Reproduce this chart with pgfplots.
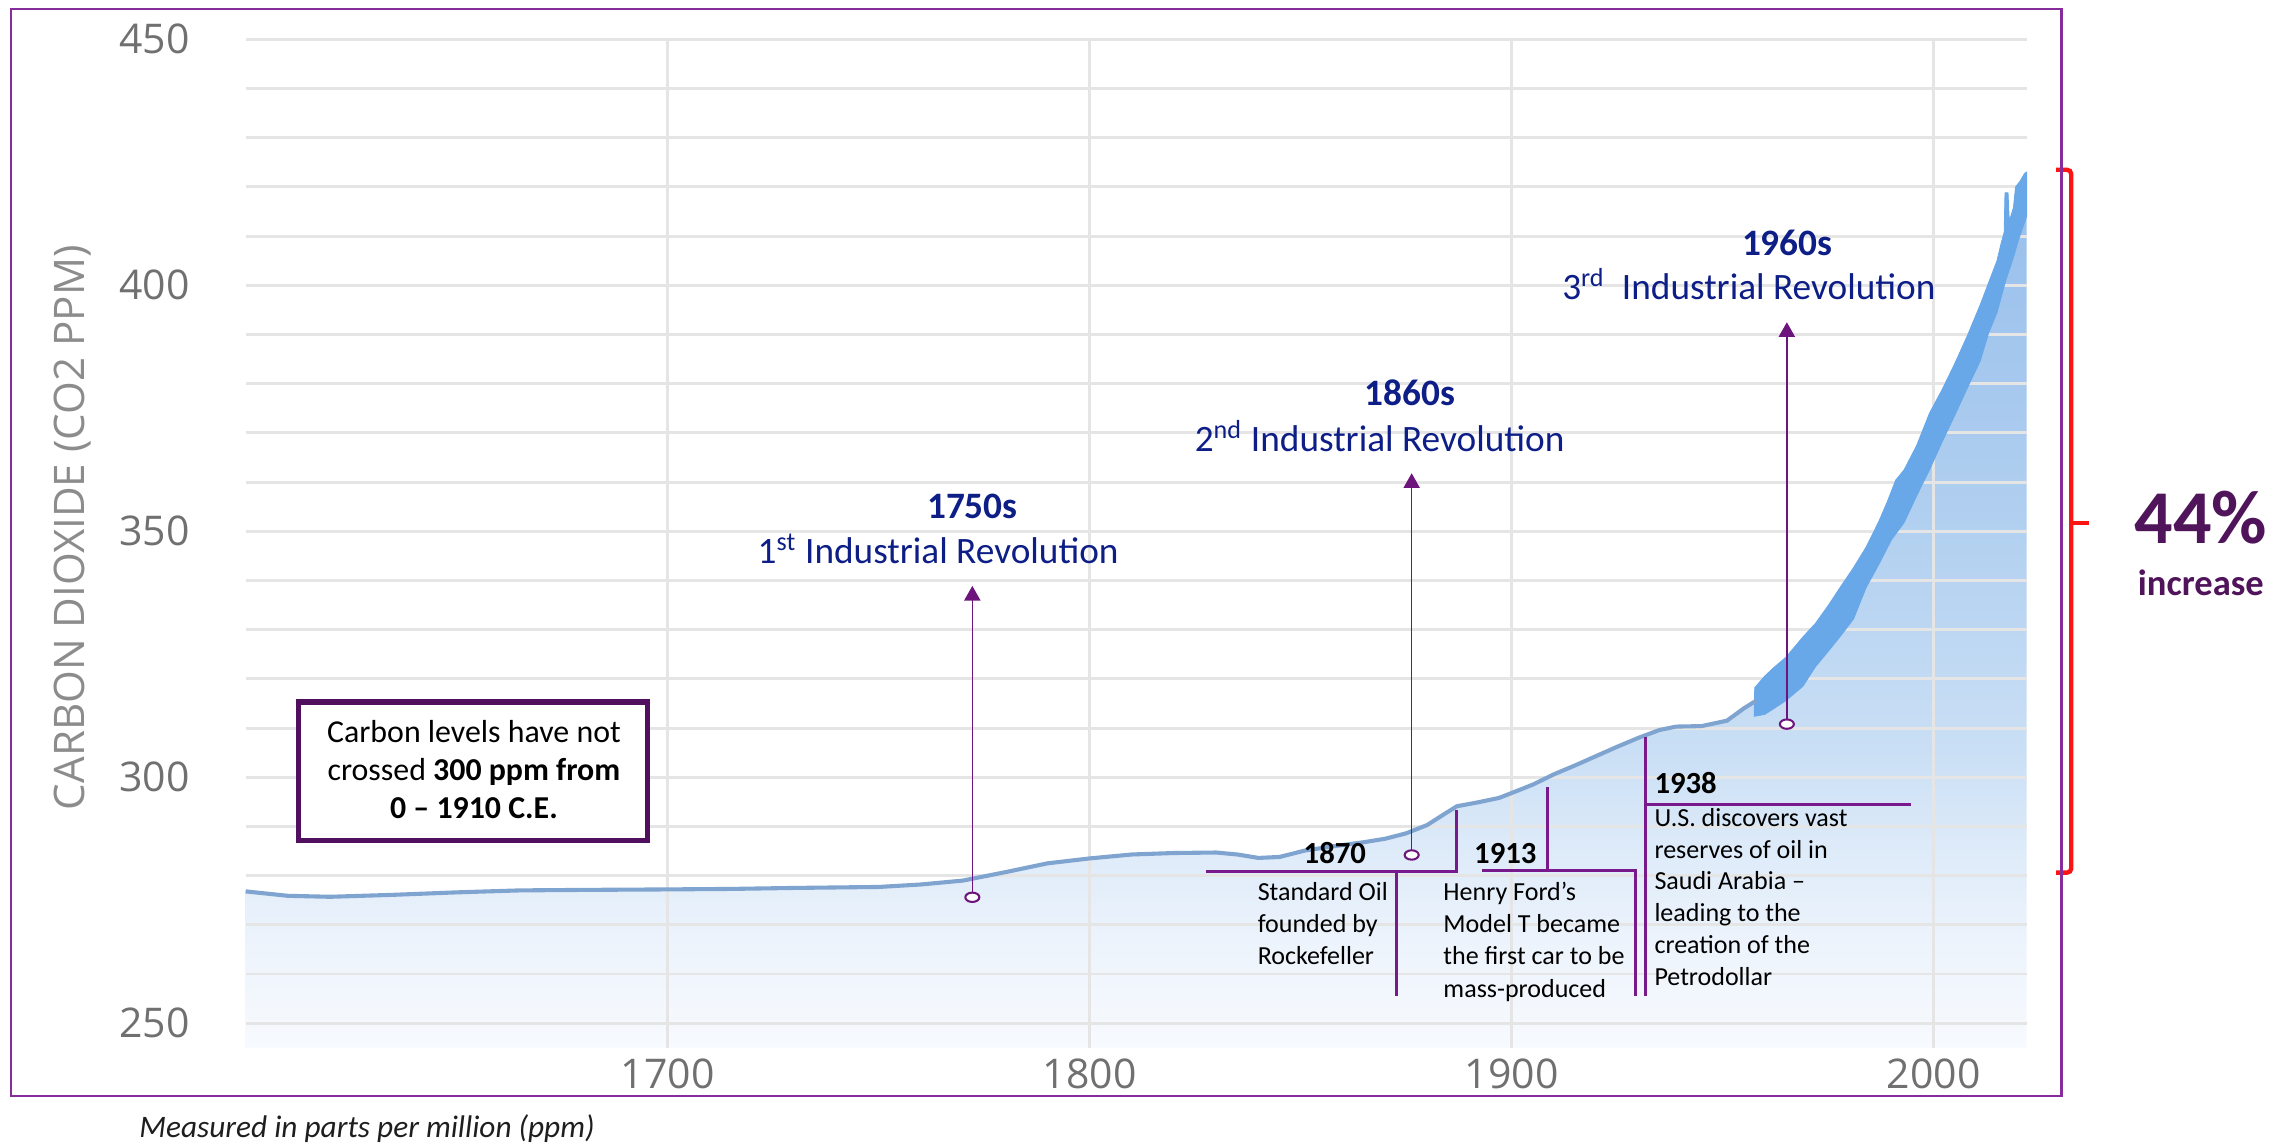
\documentclass[border=0pt]{standalone}
\usepackage{pgfplots}
\pgfplotsset{compat=1.18}
\usepackage{fontspec}
\setmainfont{Carlito}
\newfontfamily\osans{Open Sans}
\usetikzlibrary{arrows.meta}
\definecolor{gridc}{RGB}{229,229,229}
\definecolor{tickc}{RGB}{112,112,112}
\definecolor{labc}{RGB}{140,140,140}
\definecolor{navy}{RGB}{14,30,135}
\definecolor{arrowc}{RGB}{110,20,125}
\definecolor{annc}{RGB}{120,25,140}
\definecolor{boxc}{RGB}{80,15,95}
\definecolor{pctc}{RGB}{80,20,90}
\definecolor{framec}{RGB}{135,45,155}
\definecolor{bracketc}{RGB}{250,20,20}
\definecolor{linec}{RGB}{128,164,208}
\definecolor{bandc}{RGB}{104,168,232}
\definecolor{cA}{RGB}{247,250,254}
\definecolor{cB}{RGB}{238,244,252}
\definecolor{cC}{RGB}{222,235,249}
\definecolor{cD}{RGB}{202,223,245}
\definecolor{cE}{RGB}{178,208,240}
\definecolor{cF}{RGB}{150,190,235}
\pgfdeclareverticalshading{co2fill}{100bp}{color(0bp)=(cA); color(25bp)=(cA); color(30.6bp)=(cB); color(36.2bp)=(cC); color(41.9bp)=(cD); color(54.5bp)=(cE); color(75bp)=(cF); color(100bp)=(cF)}
\begin{document}
\begin{tikzpicture}
\begin{axis}[
  scale only axis, width=609.1pt, height=344.9pt,
  xmin=1600, xmax=2022, ymin=245, ymax=450,
  clip=false,
  set layers,
  axis line style={draw=none},
  major tick length=0pt, minor tick length=0pt,
  xtick={1700,1800,1900,2000},
  ytick={250,300,350,400,450},
  minor ytick={260,270,280,290,310,320,330,340,360,370,380,390,410,420,430,440},
  grid=both,
  major grid style={draw=gridc, line width=1pt},
  minor grid style={draw=gridc, line width=1pt},
  /pgf/number format/assume math mode=true,
  /pgf/number format/1000 sep={},
  ticklabel style={font=\osans\fontsize{14}{16}\selectfont, text=tickc},
  xticklabel style={anchor=north, inner sep=0pt, yshift=-3.7pt},
  yticklabel style={anchor=east, inner sep=0pt, xshift=-19pt},
  ylabel={CARBON DIOXIDE (CO2 PPM)},
  ylabel style={at={(axis description cs:-0.0969,0.5156)}, anchor=center, font=\osans\fontsize{14.4}{16}\selectfont, text=labc},
]
% gradient area under the curve
\addplot[on layer=axis background, draw=none, shade, shading=co2fill] coordinates {
(1600,276.8) (1610,275.9) (1620,275.7) (1635,276.1) (1650,276.6) (1665,277.0) (1680,277.1) (1700,277.2) (1715,277.3) (1730,277.5) (1750,277.7) (1760,278.2) (1770,279.0) (1780,280.7) (1790,282.5) (1800,283.5) (1810,284.3) (1820,284.6) (1830,284.7) (1835,284.3) (1840,283.6) (1845,283.8) (1851,285.1) (1858,286.0) (1865,286.8) (1870,287.5) (1875,288.6) (1880,290.3) (1884,292.5) (1887,294.1) (1892,294.9) (1897,295.8) (1900,296.8) (1905,298.5) (1910,300.6) (1915,302.4) (1920,304.3) (1925,306.2) (1930,308.0) (1935,309.6) (1939,310.3) (1945,310.4) (1951,311.5) (1955,314.0) (1957.5,315.0)
(1957.6,318.2) (1960,320.6) (1962,322.2) (1965,324.4) (1969,328.5) (1972,331.3) (1975,334.9) (1978,338.8) (1981,342.6) (1984,346.8) (1987,352.0) (1989,356.0) (1991,360.4) (1993,362.5) (1996,367.5) (1999,374.0) (2002,378.8) (2005,384.1) (2008,389.8) (2011,396.0) (2013,400.5) (2015,405.0) (2016,408.6) (2016.7,410.8) (2016.9,418.8) (2017.6,418.8) (2017.9,413.0) (2018.9,415.8) (2019.4,420.0) (2020.5,421.2) (2021.5,422.7) (2022,423.0)
} \closedcycle;
% seasonal band (Mauna Loa era)
\addplot[draw=bandc, line width=0.3pt, fill=bandc] coordinates {
(1957.5,315.0) (1957.6,318.2) (1960,320.6) (1962,322.2) (1965,324.4) (1969,328.5) (1972,331.3) (1975,334.9) (1978,338.8) (1981,342.6) (1984,346.8) (1987,352.0) (1989,356.0) (1991,360.4) (1993,362.5) (1996,367.5) (1999,374.0) (2002,378.8) (2005,384.1) (2008,389.8) (2011,396.0) (2013,400.5) (2015,405.0) (2016,408.6) (2016.7,410.8) (2016.9,418.8) (2017.6,418.8) (2017.9,413.0) (2018.9,415.8) (2019.4,420.0) (2020.5,421.2) (2021.5,422.7) (2022,423.0)
(2022,414.0) (2021,411.5) (2020,409.0) (2019,406.0) (2017,400.8) (2015,394.5) (2013,390.3) (2011,384.6) (2008,379.2) (2005,373.6) (2002,368.2) (1999,362.5) (1996,357.3) (1993,351.8) (1990,348.3) (1987,343.3) (1984,338.6) (1981,332.2) (1978,328.8) (1975,325.6) (1972,322.5) (1969,318.5) (1965,315.6) (1962,313.9) (1960,312.8) (1957.5,312.4)
} -- cycle;
% historic line
\addplot[linec, line width=1.4pt] coordinates {
(1600,276.8) (1610,275.9) (1620,275.7) (1635,276.1) (1650,276.6) (1665,277.0) (1680,277.1) (1700,277.2) (1715,277.3) (1730,277.5) (1750,277.7) (1760,278.2) (1770,279.0) (1780,280.7) (1790,282.5) (1800,283.5) (1810,284.3) (1820,284.6) (1830,284.7) (1835,284.3) (1840,283.6) (1845,283.8) (1851,285.1) (1858,286.0) (1865,286.8) (1870,287.5) (1875,288.6) (1880,290.3) (1884,292.5) (1887,294.1) (1892,294.9) (1897,295.8) (1900,296.8) (1905,298.5) (1910,300.6) (1915,302.4) (1920,304.3) (1925,306.2) (1930,308.0) (1935,309.6) (1939,310.3) (1945,310.4) (1951,311.5) (1955,314.0) (1958,315.6)
};
% industrial revolution arrows
\draw[arrowc, line width=0.55pt, -{Triangle[width=5.5pt,length=5pt]}] (axis cs:1772.2,275.6) -- (axis cs:1772.2,338.9);
\draw[arrowc, line width=0.55pt, -{Triangle[width=5.5pt,length=5pt]}] (axis cs:1876.3,284.2) -- (axis cs:1876.3,361.8);
\draw[arrowc, line width=0.55pt, -{Triangle[width=5.5pt,length=5pt]}] (axis cs:1965.2,310.8) -- (axis cs:1965.2,392.5);
\addplot[only marks, mark=*, mark size=1.6pt, mark options={fill=white, draw=arrowc, line width=0.7pt, xscale=1.5}] coordinates {(1772.2,275.6) (1876.3,284.2) (1965.2,310.8)};
\node[font=\bfseries\fontsize{12.75}{15}\selectfont, text=navy, anchor=base] at (axis cs:1772.2,352.6) {1750s};
\node[font=\fontsize{12.75}{15}\selectfont, text=navy, anchor=base] at (axis cs:1764.1,343.5) {1\textsuperscript{st} Industrial Revolution};
\node[font=\bfseries\fontsize{12.75}{15}\selectfont, text=navy, anchor=base] at (axis cs:1875.9,375.5) {1860s};
\node[font=\fontsize{12.75}{15}\selectfont, text=navy, anchor=base] at (axis cs:1868.7,366.2) {2\textsuperscript{nd} Industrial Revolution};
\node[font=\bfseries\fontsize{12.75}{15}\selectfont, text=navy, anchor=base] at (axis cs:1965.3,406.0) {1960s};
\node[font=\fontsize{12.75}{15}\selectfont, text=navy, anchor=base] at (axis cs:1956.2,397.1) {3\textsuperscript{rd}\ \ Industrial Revolution};
% 1870
\draw[annc, line width=1pt] (axis cs:1827.6,280.9) -- (axis cs:1887,280.9) -- (axis cs:1887,293.4);
\draw[annc, line width=1pt] (axis cs:1872.6,280.9) -- (axis cs:1872.6,255.5);
\node[font=\bfseries\fontsize{10.5}{12}\selectfont, anchor=base] at (axis cs:1858.1,282.4) {1870};
\begin{scope}[every node/.style={font=\fontsize{8.9}{10.8}\selectfont, anchor=base west, inner sep=0pt}]
\node at (axis cs:1839.7,275.0) {Standard Oil};
\node at (axis cs:1839.7,268.4) {founded by};
\node at (axis cs:1839.7,261.9) {Rockefeller};
\node at (axis cs:1883.7,275.0) {Henry Ford’s};
\node at (axis cs:1883.7,268.4) {Model T became};
\node at (axis cs:1883.7,261.9) {the first car to be};
\node at (axis cs:1883.7,255.3) {mass-produced};
\node at (axis cs:1933.7,290.0) {U.S. discovers vast};
\node at (axis cs:1933.7,283.5) {reserves of oil in};
\node at (axis cs:1933.7,277.1) {Saudi Arabia –};
\node at (axis cs:1933.7,270.6) {leading to the};
\node at (axis cs:1933.7,264.1) {creation of the};
\node at (axis cs:1933.7,257.7) {Petrodollar};
\end{scope}
% 1913
\draw[annc, line width=1pt] (axis cs:1893,281) -- (axis cs:1929.4,281) -- (axis cs:1929.4,255.5);
\draw[annc, line width=1pt] (axis cs:1908.5,281) -- (axis cs:1908.5,298.1);
\node[font=\bfseries\fontsize{10.5}{12}\selectfont, anchor=base] at (axis cs:1898.5,282.4) {1913};
% 1938
\draw[annc, line width=1pt] (axis cs:1931.6,308.2) -- (axis cs:1931.6,255.5);
\draw[annc, line width=1pt] (axis cs:1931.6,294.4) -- (axis cs:1994.5,294.4);
\node[font=\bfseries\fontsize{10.5}{12}\selectfont, anchor=base west, inner sep=0pt] at (axis cs:1933.7,296.7) {1938};
% box
\draw[boxc, line width=1.8pt, fill=white] (axis cs:1612.6,287.2) rectangle (axis cs:1695.2,315.3);
\begin{scope}[every node/.style={font=\fontsize{10.9}{13}\selectfont, anchor=base, inner sep=0pt}]
\node at (axis cs:1654.1,307.1) {Carbon levels have not};
\node at (axis cs:1654.1,299.4) {crossed \textbf{300 ppm from}};
\node at (axis cs:1654.1,291.7) {\textbf{0 – 1910 C.E.}};
\end{scope}
% bracket and percentage
\draw[bracketc, line width=1.5pt, rounded corners=1.5pt] (axis cs:2029,423.5) -- (axis cs:2032.6,423.5) -- (axis cs:2032.6,280.6) -- (axis cs:2029,280.6);
\draw[bracketc, line width=1.5pt] (axis cs:2032.6,351.7) -- (axis cs:2036.8,351.7);
\node[font=\bfseries\fontsize{26}{30}\selectfont, text=pctc, anchor=base] at (axis cs:2063.3,347.5) {44\%};
\node[font=\bfseries\fontsize{12.5}{15}\selectfont, text=pctc, anchor=base] at (axis cs:2063.3,337.0) {increase};
% frame and caption
\draw[framec, line width=0.8pt] (axis cs:1544.4,235.2) rectangle (axis cs:2030.3,456.2);
\node[font=\itshape\fontsize{10.7}{13}\selectfont, text={rgb,255:red,30;green,30;blue,30}, anchor=base west, inner sep=0pt] at (axis cs:1574.7,226.8) {Measured in parts per million (ppm)};
\coordinate (bbSW) at (axis cs:1541.8,224.7);
\coordinate (bbNE) at (axis cs:2084.9,458.0);
\end{axis}
\pgfresetboundingbox
\path[use as bounding box] (bbSW) rectangle (bbNE);
\end{tikzpicture}
\end{document}
